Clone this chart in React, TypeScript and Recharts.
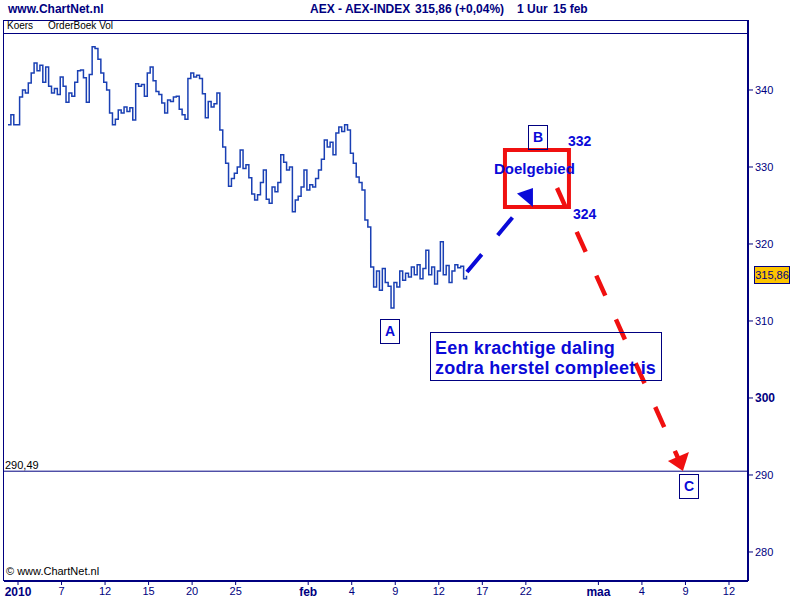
import React from 'react';
import {
  ComposedChart,
  Line,
  XAxis,
  YAxis,
  ReferenceLine,
  ReferenceArea,
  ReferenceDot,
} from 'recharts';

// ---------- data ----------
// trading-day positions of the axis ticks (0 = 4 jan 2010)
const tickDays = [0, 3, 6, 9, 12, 15, 20, 23, 26, 29, 32, 35, 40, 43, 46, 49];
const tickLabels = ['2010', '7', '12', '15', '20', '25', 'feb', '4', '9', '12', '17', '22', 'maa', '4', '9', '12'];
const boldTickLabels = ['2010', 'feb', 'maa'];
const priceTicks = [280, 290, 300, 310, 320, 330, 340];
const boldPriceTicks = [300];

// hourly closes of the AEX (roughly 5 bars per trading day)
const firstBarDay = -0.69;
const barStepDays = 0.2;
const hourlyCloses = [
  335.5, 336.8, 335.5, 335.5, 339.1, 340.0, 339.6, 340.9, 342.2, 343.5,
  342.5, 343.2, 341.0, 343.0, 340.5, 339.6, 340.2, 339.4, 341.7, 340.5,
  338.4, 339.6, 339.2, 341.0, 342.5, 342.6, 341.6, 338.4, 342.0, 345.6,
  345.4, 344.0, 342.2, 341.0, 340.0, 337.0, 335.5, 336.2, 337.4, 337.0,
  337.8, 337.2, 337.7, 336.1, 340.8, 340.5, 340.7, 339.2, 342.2, 343.0,
  341.2, 339.8, 339.4, 338.3, 337.0, 338.7, 338.5, 339.1, 339.2, 337.5,
  336.8, 336.2, 341.5, 342.2, 341.7, 341.9, 341.5, 339.5, 336.4, 338.5,
  337.8, 338.2, 339.6, 334.8, 332.6, 330.5, 327.5, 328.5, 329.2, 330.0,
  332.2, 329.8, 330.3, 328.6, 326.5, 325.7, 326.4, 328.0, 329.6, 325.8,
  325.3, 327.4, 326.8, 328.0, 331.6, 330.6, 329.6, 330.0, 324.2, 325.7,
  326.2, 327.4, 329.6, 327.0, 327.7, 327.4, 328.5, 329.6, 331.0, 333.5,
  332.6, 333.2, 331.6, 334.4, 335.2, 334.6, 335.5, 334.8, 331.8, 330.5,
  328.7, 328.0, 327.0, 323.1, 322.2, 317.0, 314.4, 316.5, 314.0, 316.8,
  315.0, 314.5, 311.7, 315.0, 314.4, 316.5, 315.3, 316.2, 315.7, 317.0,
  316.0, 317.3, 315.5, 316.8, 319.2, 316.0, 317.0, 314.8, 316.5, 320.3,
  316.0, 317.2, 315.0, 316.5, 317.3, 316.9, 317.1, 315.5, 315.86,
];

const supportLevel = 290.49;
const targetZone = { dayFrom: 33.56, dayTo: 37.97, low: 324.8, high: 332.2 };
const recoveryLeg = [{ x: 30.94, y: 316.36 }, { x: 34.11, y: 323.51 }];
const recoveryHead = { x: 35.49, y: 326.04 };
const declineLeg = [{ x: 37.15, y: 327.27 }, { x: 45.55, y: 291.95 }];
const declineHead = { x: 45.62, y: 291.95 };

const chartData = hourlyCloses.map((close, i) => ({
  t: firstBarDay + i * barStepDays,
  close,
}));

// ---------- styling ----------
const NAVY = '#000080';
const SERIES = '#1a40b4';
const BLUE = '#0a0ad8';
const RED = '#f01010';
const FONT = '"Liberation Sans", Arial, sans-serif';

const XTick = (props: any) => {
  const { x, y, payload } = props;
  const idx = tickDays.indexOf(payload.value);
  const label = tickLabels[idx] ?? '';
  const bold = boldTickLabels.includes(label);
  return (
    <text
      x={x}
      y={y}
      dy="0.71em"
      textAnchor="middle"
      fill={NAVY}
      fontFamily={FONT}
      fontSize={bold ? 12 : 11}
      fontWeight={bold ? 'bold' : 'normal'}
    >
      {label}
    </text>
  );
};

const YTick = (props: any) => {
  const { x, y, payload } = props;
  const bold = boldPriceTicks.includes(payload.value);
  return (
    <text
      x={x}
      y={y}
      dy="0.36em"
      textAnchor="start"
      fill={NAVY}
      fontFamily={FONT}
      fontSize={bold ? 12 : 11}
      fontWeight={bold ? 'bold' : 'normal'}
    >
      {payload.value}
    </text>
  );
};

const abs = (left: number, top: number, extra: React.CSSProperties = {}): React.CSSProperties => ({
  position: 'absolute',
  left,
  top,
  fontFamily: FONT,
  whiteSpace: 'nowrap',
  ...extra,
});

const LetterBox = ({ left, top, letter }: { left: number; top: number; letter: string }) => (
  <div
    style={abs(left, top, {
      width: 18,
      height: 23,
      border: `1px solid ${NAVY}`,
      color: BLUE,
      fontWeight: 'bold',
      fontSize: 14,
      lineHeight: '23px',
      textAlign: 'center',
    })}
  >
    {letter}
  </div>
);

export default function App() {
  return (
    <div style={{ position: 'absolute', left: 0, top: 0, width: 800, height: 600, background: '#fff' }}>
      <ComposedChart
        width={800}
        height={600}
        data={chartData}
        margin={{ top: 20, right: 4, bottom: 0, left: 4 }}
      >
        <XAxis
          type="number"
          dataKey="t"
          domain={[-0.965, 50.31]}
          ticks={tickDays}
          allowDataOverflow
          height={19}
          tick={<XTick />}
          tickSize={4}
          tickMargin={2}
          tickLine={{ stroke: NAVY }}
          axisLine={{ stroke: NAVY, strokeWidth: 2 }}
          interval={0}
        />
        <YAxis
          orientation="right"
          type="number"
          domain={[276.23, 349.09]}
          ticks={priceTicks}
          allowDataOverflow
          width={48}
          tick={<YTick />}
          tickSize={5}
          tickMargin={2}
          tickLine={{ stroke: NAVY }}
          axisLine={{ stroke: NAVY, strokeWidth: 2 }}
          interval={0}
        />
        <ReferenceLine y={supportLevel} stroke={NAVY} strokeWidth={1} />
        <Line
          type="stepAfter"
          dataKey="close"
          stroke={SERIES}
          strokeWidth={1.5}
          dot={false}
          isAnimationActive={false}
        />
        <ReferenceArea
          x1={targetZone.dayFrom}
          x2={targetZone.dayTo}
          y1={targetZone.low}
          y2={targetZone.high}
          fill="none"
          stroke={RED}
          strokeWidth={4}
          fillOpacity={0}
          ifOverflow="visible"
        />
        <ReferenceLine
          segment={recoveryLeg}
          stroke={BLUE}
          strokeWidth={4}
          strokeDasharray="23 25"
          ifOverflow="visible"
        />
        <ReferenceLine
          segment={declineLeg}
          stroke={RED}
          strokeWidth={4.5}
          strokeDasharray="22 26"
          ifOverflow="visible"
        />
        <ReferenceDot
          x={recoveryHead.x}
          y={recoveryHead.y}
          ifOverflow="visible"
          shape={(p: any) => (
            <polygon
              points={`${p.cx - 16},${p.cy - 4} ${p.cx},${p.cy - 9.5} ${p.cx},${p.cy + 9.5}`}
              fill={BLUE}
            />
          )}
        />
        <ReferenceDot
          x={declineHead.x}
          y={declineHead.y}
          ifOverflow="visible"
          shape={(p: any) => (
            <polygon
              points={`${p.cx - 12},${p.cy + 1} ${p.cx + 9},${p.cy - 8} ${p.cx + 3},${p.cy + 11}`}
              fill={RED}
            />
          )}
        />
      </ComposedChart>

      {/* frame */}
      <div style={abs(3, 20, { width: 746, height: 1, background: NAVY })} />
      <div style={abs(3, 20, { width: 1, height: 561, background: NAVY })} />
      <div style={abs(3, 33, { width: 745, height: 1, background: NAVY })} />

      {/* header */}
      <div style={abs(8, 2, { color: NAVY, fontWeight: 'bold', fontSize: 12 })}>www.ChartNet.nl</div>
      <div style={abs(310, 2, { color: NAVY, fontWeight: 'bold', fontSize: 12 })}>AEX - AEX-INDEX</div>
      <div style={abs(415, 2, { color: NAVY, fontWeight: 'bold', fontSize: 12 })}>315,86 (+0,04%)</div>
      <div style={abs(517, 2, { color: NAVY, fontWeight: 'bold', fontSize: 12 })}>1 Uur</div>
      <div style={abs(553, 2, { color: NAVY, fontWeight: 'bold', fontSize: 12 })}>15 feb</div>

      <div style={abs(7, 20, { color: '#000', fontSize: 10 })}>Koers</div>
      <div style={abs(48, 20, { color: '#000', fontSize: 10 })}>OrderBoek Vol</div>
      <div style={abs(6, 565, { color: '#000', fontSize: 11 })}>© www.ChartNet.nl</div>
      <div style={abs(5, 459, { color: '#000', fontSize: 11 })}>290,49</div>

      {/* last price label */}
      <div
        style={abs(754, 266, {
          width: 34,
          height: 16,
          background: '#fcc400',
          border: `1px solid ${NAVY}`,
          color: NAVY,
          fontSize: 11,
          lineHeight: '16px',
          textAlign: 'center',
        })}
      >
        315,86
      </div>

      {/* annotations */}
      <LetterBox left={380} top={319} letter="A" />
      <LetterBox left={528} top={125} letter="B" />
      <LetterBox left={679} top={474} letter="C" />
      <div style={abs(568, 133, { color: BLUE, fontWeight: 'bold', fontSize: 14 })}>332</div>
      <div style={abs(573, 206, { color: BLUE, fontWeight: 'bold', fontSize: 14 })}>324</div>
      <div style={abs(494, 160, { color: BLUE, fontWeight: 'bold', fontSize: 15 })}>Doelgebied</div>
      <div
        style={abs(430, 332, {
          width: 232,
          height: 49,
          border: `1px solid ${NAVY}`,
          color: BLUE,
          fontWeight: 'bold',
          fontSize: 18,
          lineHeight: '20px',
          padding: '5px 0 0 4px',
          letterSpacing: '0.2px',
          boxSizing: 'border-box',
        })}
      >
        Een krachtige daling
        <br />
        zodra herstel compleet is
      </div>
    </div>
  );
}
